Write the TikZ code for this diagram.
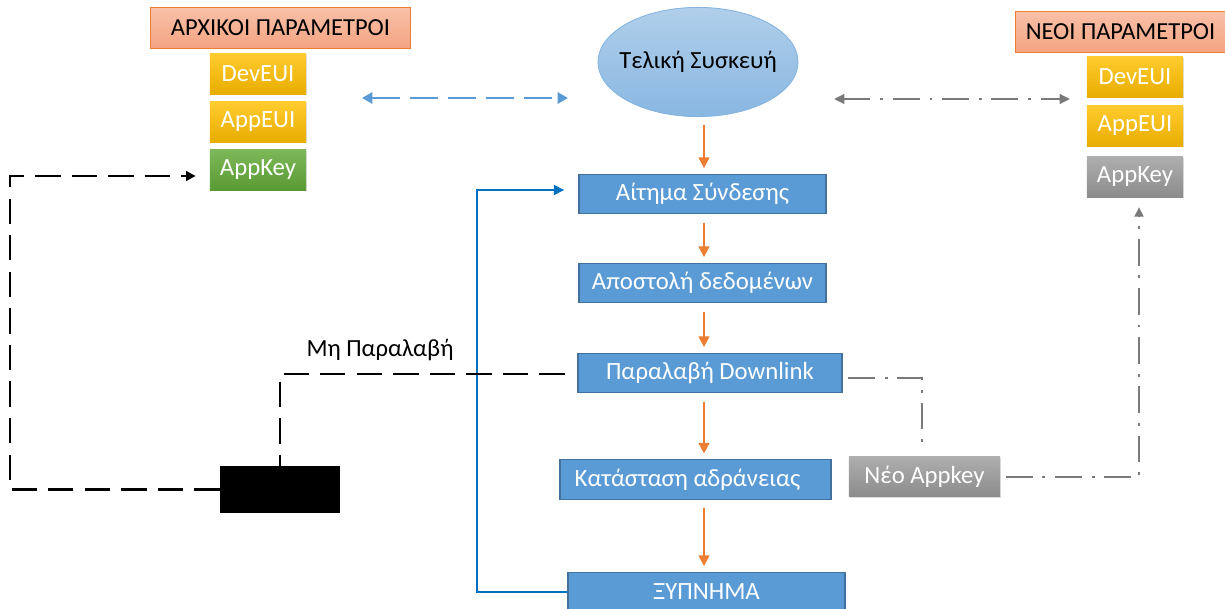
\documentclass[tikz,border=0pt]{standalone}
\usepackage{fontspec}
\setmainfont{Carlito}
\usetikzlibrary{arrows.meta,shapes.geometric,shadows}
\definecolor{stepblue}{HTML}{5B9BD5}
\definecolor{stepedge}{HTML}{41719C}
\definecolor{flowor}{HTML}{ED7D31}
\definecolor{wakeblue}{HTML}{0070C0}
\definecolor{keygray}{HTML}{7A7A7A}
\definecolor{goldtop}{HTML}{FFCB2E}
\definecolor{goldbot}{HTML}{E8AD00}
\definecolor{greentop}{HTML}{7DB858}
\definecolor{greenbot}{HTML}{5A9A34}
\definecolor{graytop}{HTML}{AEAEAE}
\definecolor{graybot}{HTML}{8C8C8C}
\definecolor{headtop}{HTML}{F8C0A8}
\definecolor{headbot}{HTML}{F4A482}
\tikzset{
  blk/.style    = {draw, align=center, inner sep=2pt, text=white,
                   font=\fontsize{17.6}{20}\selectfont},
  stepblk/.style = {blk, fill=stepblue, draw=stepedge, line width=0.8pt,
                   minimum height=0.98cm},
  parblk/.style = {blk, draw=none, minimum width=2.4cm, minimum height=1.0cm,
                   drop shadow={opacity=.25, shadow xshift=.7pt, shadow yshift=-.9pt}},
  goldblk/.style  = {parblk, top color=goldtop, bottom color=goldbot},
  greenblk/.style = {parblk, top color=greentop, bottom color=greenbot},
  grayblk/.style  = {parblk, top color=graytop, bottom color=graybot},
  headblk/.style  = {draw=flowor, line width=0.7pt, top color=headtop,
                   bottom color=headbot, minimum height=1.0cm,
                   font=\fontsize{17.4}{20}\selectfont},
  ar/.style     = {-{Triangle[length=2.7mm,width=2.6mm]}, flowor, line width=1.9pt,
                   shorten <=6pt, shorten >=4pt},
  lnk/.style    = {{Triangle[length=2.6mm,width=2.8mm]}-{Triangle[length=2.6mm,width=2.8mm]},
                   stepblue, line width=2pt, dash pattern=on 20pt off 7pt},
  lnkg/.style   = {{Triangle[length=2.6mm,width=2.4mm]}-{Triangle[length=2.6mm,width=2.4mm]},
                   keygray, line width=2pt,
                   dash pattern=on 19pt off 7pt on 2pt off 7pt},
  miss/.style   = {black, line width=2pt, dash pattern=on 18pt off 8pt},
  keyln/.style  = {keygray, line width=2pt, dash pattern=on 19pt off 7pt on 2pt off 7pt}
}

\begin{document}
\begin{tikzpicture}[x=0.025cm, y=-0.025cm]
\useasboundingbox (0,0) rectangle (1225,609);

% ---------------- initial parameters ----------------
\node[headblk, minimum width=6.475cm] (initp) at (280.5, 28) {ΑΡΧΙΚΟΙ ΠΑΡΑΜΕΤΡΟΙ};
\node[goldblk]  (devL)   at (258, 74)  {DevEUI};
\node[goldblk]  (appeuiL) at (258, 122) {AppEUI};
\node[greenblk] (appkeyL) at (258, 170) {AppKey};

% ---------------- new parameters ----------------
\node[headblk, minimum width=5.225cm] (newp) at (1120.5, 32) {ΝΕΟΙ ΠΑΡΑΜΕΤΡΟΙ};
\node[goldblk] (devR)    at (1135, 77)  {DevEUI};
\node[goldblk] (appeuiR) at (1135, 126) {AppEUI};
\node[grayblk] (appkeyR) at (1135, 177) {AppKey};

% ---------------- end device ----------------
\node[ellipse, draw=stepblue!75, line width=0.6pt, top color=stepblue!48,
      bottom color=stepblue!72, minimum width=5cm, minimum height=2.73cm, inner sep=0pt,
      label={[font=\fontsize{17.5}{20}\selectfont]center:Τελική Συσκευή}] (dev) at (698, 62) {};

% ---------------- main chain ----------------
\node[stepblk, minimum width=6.175cm] (req)   at (702.5, 194) {Αίτημα Σύνδεσης};
\node[stepblk, minimum width=6.175cm] (send)  at (702.5, 283) {Αποστολή δεδομένων};
\node[stepblk, minimum width=6.6cm]   (recv)  at (710, 373)   {Παραλαβή Downlink};
\node[stepblk, minimum width=6.775cm] (sleep) at (695.5, 479.5) {Κατάσταση αδράνειας\hspace*{0.4cm}};
\node[stepblk, minimum width=6.925cm] (wake)  at (706.5, 592) {ΞΥΠΝΗΜΑ};

\node[grayblk, minimum width=3.775cm] (newkey) at (924.5, 476.5) {Νέο Appkey};
\node[fill=black, minimum width=3cm, minimum height=1.175cm] (blackbox) at (280, 489.5) {};

\node[font=\fontsize{17.5}{20}\selectfont] (misslbl) at (380, 350) {Μη Παραλαβή};

% ---------------- helper points ----------------
\coordinate (spine) at (704, 0);
\coordinate (blA) at (362, 98);
\coordinate (blB) at (568, 98);
\coordinate (grA) at (834, 99);
\coordinate (grB) at (1070, 99);
\coordinate (wakeX) at (477, 0);
\coordinate (missX) at (280, 374);
\coordinate (loopL) at (10, 176);
\coordinate (kneeR) at (922, 378);
\coordinate (kneeK) at (1139, 477);

% ---------------- edges ----------------
\draw[ar] (dev.south -| spine) -- (req.north -| spine);
\draw[ar] (req.south -| spine) -- (send.north -| spine);
\draw[ar] (send.south -| spine) -- (recv.north -| spine);
\draw[ar] (recv.south -| spine) -- (sleep.north -| spine);
\draw[ar] (sleep.south -| spine) -- (wake.north -| spine);

\draw[lnk] (blA) -- (blB);
\draw[lnkg] (grA) -- (grB);

% wake up goes back to the join request
\draw[wakeblue, line width=1.8pt, -{Triangle[length=2.6mm,width=2.4mm]}, shorten >=10pt]
  (wake.west) -- (wake.west -| wakeX) -- (wakeX |- 0,190) -- (req.west |- 0,190);

% no downlink
\draw[miss, shorten <=9pt] (recv.west |- missX) -- (missX) -- (blackbox.north);
\draw[miss, -{Triangle[length=2.4mm,width=2.4mm]}, shorten >=10pt]
  (blackbox.west) -- (blackbox.west -| loopL) -- (loopL) -- (appkeyL.west |- loopL);

% new appkey
\draw[keyln, shorten <=4pt] (recv.east |- kneeR) -- (kneeR) -- ([yshift=4pt]newkey.north -| kneeR);
\draw[keyln, -{Triangle[length=2.4mm,width=2.2mm]}, shorten <=4pt, shorten >=7pt]
  (newkey.east |- kneeK) -- (kneeK) -- (appkeyR.south -| kneeK);

\end{tikzpicture}
\end{document}
